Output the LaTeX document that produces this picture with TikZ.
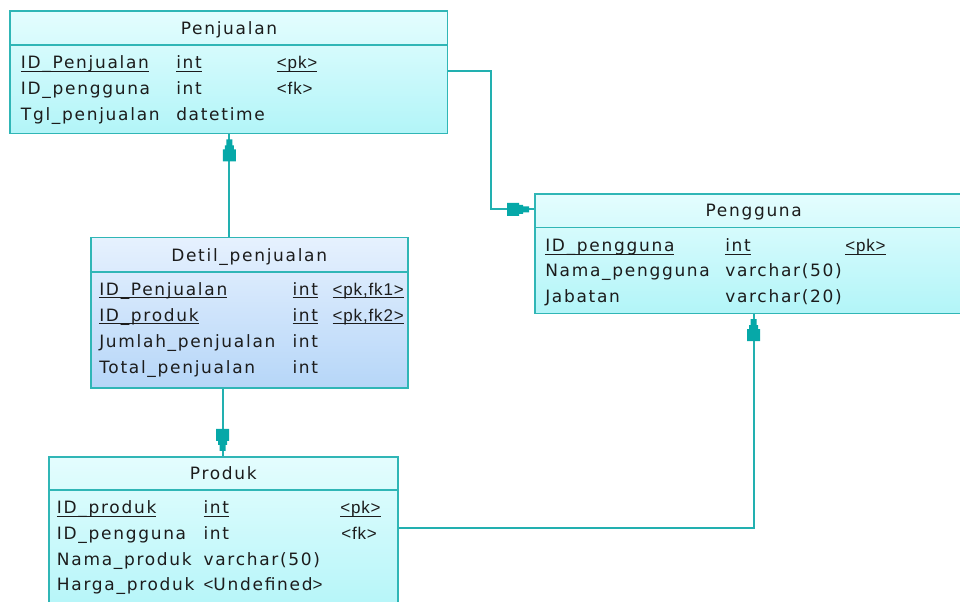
\documentclass[tikz,border=0pt]{standalone}
\usepackage{fontspec}
\setmainfont{DejaVu Sans}[LetterSpace=10]
\newfontfamily\keyfont{Liberation Sans}[LetterSpace=5]
\usetikzlibrary{fit}

\definecolor{edge}{HTML}{30B6B6}
\definecolor{wire}{HTML}{22B0B0}
\definecolor{markfill}{HTML}{06A8A8}
\definecolor{ink}{HTML}{1C1C1C}
\definecolor{cyanA}{HTML}{E4FDFE}
\definecolor{cyanB}{HTML}{B2F5F8}
\definecolor{blueA}{HTML}{E6F1FE}
\definecolor{blueB}{HTML}{B6D6F8}

% underlined key column entry
\newcommand{\keyul}[1]{\setbox0\hbox{#1}\rlap{\rule[-2.6pt]{\wd0}{0.9pt}}\box0}

\tikzset{
  tbl/.style={draw=edge, line width=1.2pt, inner sep=0pt},
  cyantbl/.style={tbl, top color=cyanA, bottom color=cyanB},
  bluetbl/.style={tbl, top color=blueA, bottom color=blueB},
  sep/.style={draw=edge, line width=1.2pt},
  txt/.style={inner sep=0pt, text=ink, font=\fontsize{12.75pt}{15pt}\selectfont},
  col/.style={txt, anchor=base west},
  keycol/.style={txt, anchor=base west, font=\fontsize{12.75pt}{15pt}\selectfont\keyfont},
  head/.style={txt, anchor=base},
  conn/.style={draw=wire, line width=1.4pt},
  onemark/.pic={
    \fill[markfill] (-3,5) -- (3,5) -- (3,11) -- (4.5,11) -- (4.5,15) -- (6.5,15)
      -- (6.5,27) -- (-6.5,27) -- (-6.5,15) -- (-4.5,15) -- (-4.5,11) -- (-3,11) -- cycle;
  }
}

\begin{document}
\begin{tikzpicture}[x=0.75pt, y=-0.75pt]
\useasboundingbox (0,0) rectangle (960,601);
\clip (0,0) rectangle (960,601);

% ---- Penjualan ----
\node[cyantbl, fit={(10,11) (447.5,133.5)}] (penjualan) {};
\draw[sep] (penjualan.west |- 0,45) -- (penjualan.east |- 0,45);
\node[head] (penjualanT) at (229,34) {Penjualan};
\node[col] (pj1a) at (20.7,68.3) {\keyul{ID\_Penjualan}};
\node[col] (pj1b) at (176,68.3) {\keyul{int}};
\node[keycol] (pj1c) at (276.7,68.3) {\keyul{<pk>}};
\node[col] (pj2a) at (20.7,94.3) {ID\_pengguna};
\node[col] (pj2b) at (176,94.3) {int};
\node[keycol] (pj2c) at (276.7,94.3) {<fk>};
\node[col] (pj3a) at (20.7,120.3) {Tgl\_penjualan};
\node[col] (pj3b) at (176,120.3) {datetime};

% ---- Detil_penjualan ----
\node[bluetbl, fit={(90.7,237.3) (407.7,387.7)}] (detil) {};
\draw[sep] (detil.west |- 0,271.7) -- (detil.east |- 0,271.7);
\node[head] (detilT) at (249.2,261.7) {Detil\_penjualan};
\node[col] (dt1a) at (99,295) {\keyul{ID\_Penjualan}};
\node[col] (dt1b) at (292.3,295) {\keyul{int}};
\node[keycol] (dt1c) at (332.3,295) {\keyul{<pk,fk1>}};
\node[col] (dt2a) at (99,321) {\keyul{ID\_produk}};
\node[col] (dt2b) at (292.3,321) {\keyul{int}};
\node[keycol] (dt2c) at (332.3,321) {\keyul{<pk,fk2>}};
\node[col] (dt3a) at (99,347) {Jumlah\_penjualan};
\node[col] (dt3b) at (292.3,347) {int};
\node[col] (dt4a) at (99,373) {Total\_penjualan};
\node[col] (dt4b) at (292.3,373) {int};

% ---- Produk ----
\node[cyantbl, fit={(49,456.7) (397.7,620)}] (produk) {};
\draw[sep] (produk.west |- 0,490) -- (produk.east |- 0,490);
\node[head] (produkT) at (223.3,479.3) {Produk};
\node[col] (pr1a) at (56.7,513.3) {\keyul{ID\_produk}};
\node[col] (pr1b) at (203.3,513.3) {\keyul{int}};
\node[keycol] (pr1c) at (340,513.3) {\keyul{<pk>}};
\node[col] (pr2a) at (56.7,539.3) {ID\_pengguna};
\node[col] (pr2b) at (203.3,539.3) {int};
\node[keycol] (pr2c) at (341,539.3) {<fk>};
\node[col] (pr3a) at (56.7,565) {Nama\_produk};
\node[col] (pr3b) at (203.3,565) {varchar(50)};
\node[col] (pr4a) at (56.7,590.5) {Harga\_produk};
\node[col] (pr4b) at (203.3,590.5) {{\keyfont<}Undefined{\keyfont>}};

% ---- Pengguna ----
\node[cyantbl, fit={(535,194) (972.4,313.3)}] (pengguna) {};
\draw[sep] (pengguna.west |- 0,227.3) -- (pengguna.east |- 0,227.3);
\node[head] (penggunaT) at (753.7,216.7) {Pengguna};
\node[col] (pg1a) at (545,251.7) {\keyul{ID\_pengguna}};
\node[col] (pg1b) at (725,251.7) {\keyul{int}};
\node[keycol] (pg1c) at (845,251.7) {\keyul{<pk>}};
\node[col] (pg2a) at (545,276.7) {Nama\_pengguna};
\node[col] (pg2b) at (725,276.7) {varchar(50)};
\node[col] (pg3a) at (545,302.3) {Jabatan};
\node[col] (pg3b) at (725,302.3) {varchar(20)};

% ---- relationships ----
\draw[conn] (penjualan.east |- 0,71) -- (491,71) |- (pengguna.west |- 0,209.3);
\draw[conn] (detil.north -| 229.3,0) -- (penjualan.south -| 229.3,0);
\draw[conn] (detil.south -| 222.7,0) -- (produk.north -| 222.7,0);
\draw[conn] (produk.east |- 0,528.3) -| (pengguna.south);

\pic at (pengguna.west |- 0,209.3) [rotate=-90] {onemark};
\pic at (penjualan.south -| 229.3,0) {onemark};
\pic at (produk.north -| 222.7,0) [rotate=180] {onemark};
\pic at (pengguna.south) {onemark};
\end{tikzpicture}
\end{document}
